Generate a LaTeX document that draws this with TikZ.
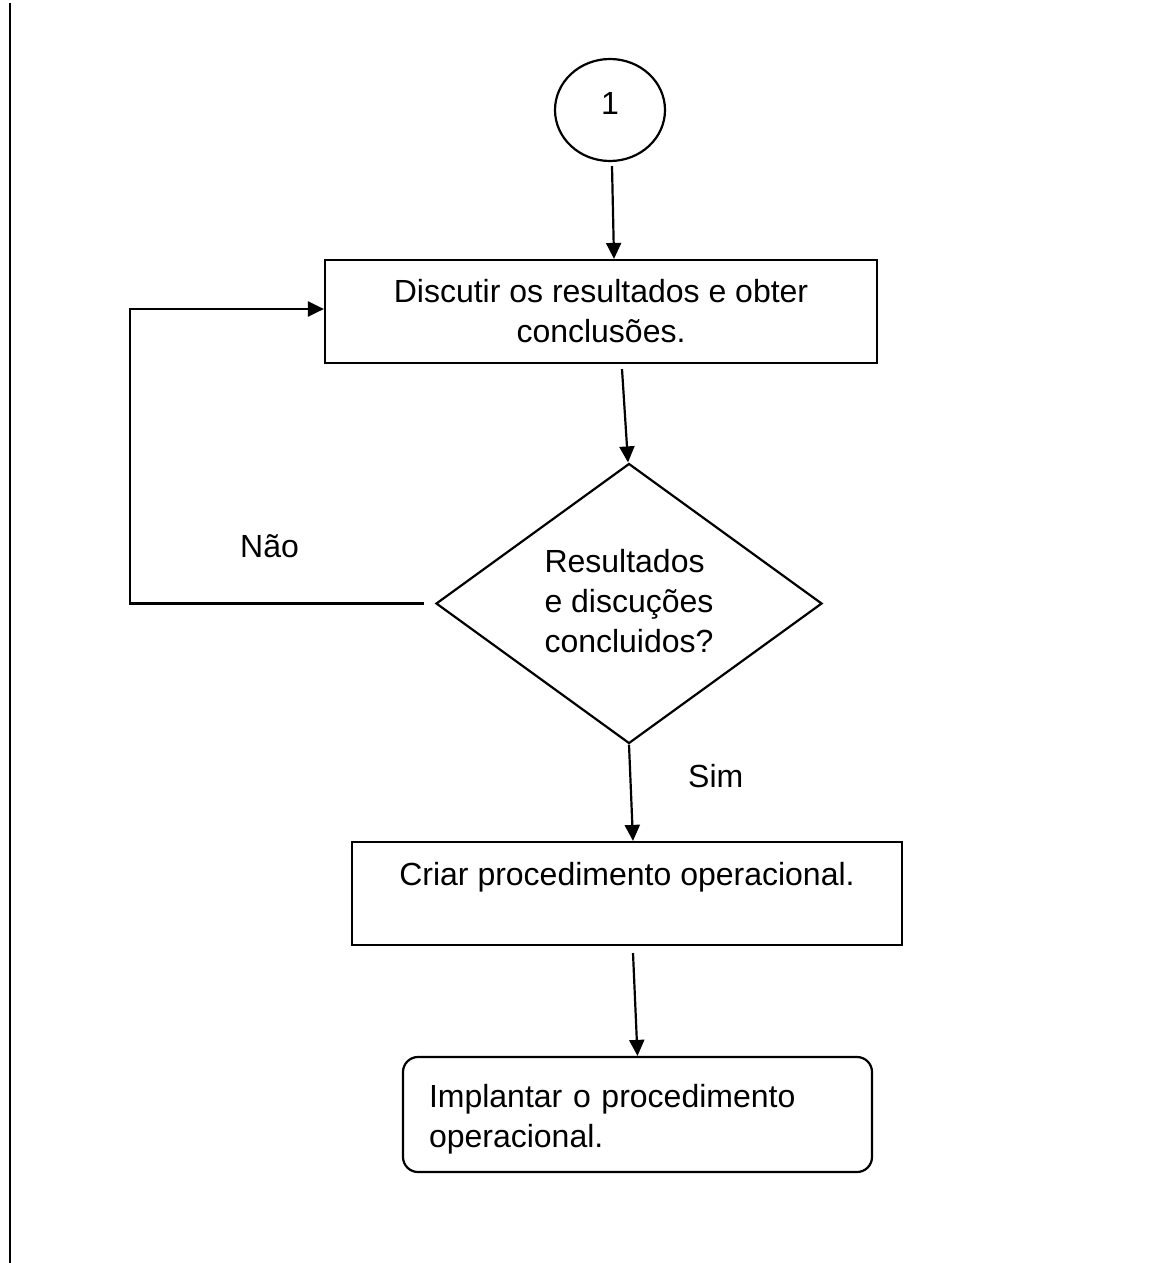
\documentclass[tikz,border=0pt]{standalone}
\usepackage{fontspec}
\setmainfont{Liberation Sans}
\usetikzlibrary{shapes.geometric,arrows.meta}
\begin{document}
\begin{tikzpicture}[x=1pt,y=-1pt,
  every node/.style={font=\fontsize{32pt}{40pt}\selectfont},
  boxst/.style={draw,line width=2.2pt,inner sep=0pt},
  arr/.style={line width=2.2pt,-{Triangle[width=15pt,length=16pt]}}]
\useasboundingbox (0,0) rectangle (1171,1263);
\draw[line width=2.4pt] (10,3) -- (10,1263);
% nodes
\node[boxst, ellipse, minimum width=110pt, minimum height=102pt] (c1) at (610,110) {\raisebox{7pt}[22pt][0pt]{1}};
\node[boxst, minimum width=552pt, minimum height=103pt, align=center] (b1) at (601,311.5) {Discutir os resultados e obter\\conclusões.};
\node[boxst, diamond, minimum width=386pt, minimum height=280pt, align=left, text depth=6pt] (d1) at (629,603.5) {Resultados\\e discuções\\concluidos?};
\node[boxst, minimum width=550pt, minimum height=103pt, align=center] (b2) at (627,893.5) {Criar procedimento operacional.\\\mbox{}};
\node[boxst, rounded corners=15pt, minimum width=469pt, minimum height=115pt, text width=417pt, inner xsep=26pt, align=left] (b3) at (637.5,1114.5) {\rule{0pt}{33pt}Implantar o procedimento\\operacional.};
\node[anchor=base west, inner sep=0pt] (nao) at (240,557) {Não};
\node[anchor=base west, inner sep=0pt] (sim) at (688,787) {Sim};
\coordinate (lc) at (130,309);
% connectors
\draw[arr] ([xshift=2pt,yshift=-4pt]c1.south) -- ([xshift=13pt]b1.north);
\draw[arr] ([xshift=21pt,yshift=-5pt]b1.south) -- ([xshift=-1pt]d1.north);
\draw[arr] (d1.south) -- ([xshift=6pt]b2.north);
\draw[arr] ([xshift=6pt,yshift=-7pt]b2.south) -- (b3.north);
\draw[arr] ([xshift=-11pt]d1.west) -- (d1.west -| lc) |- ([yshift=2.5pt]b1.west);
\end{tikzpicture}
\end{document}
